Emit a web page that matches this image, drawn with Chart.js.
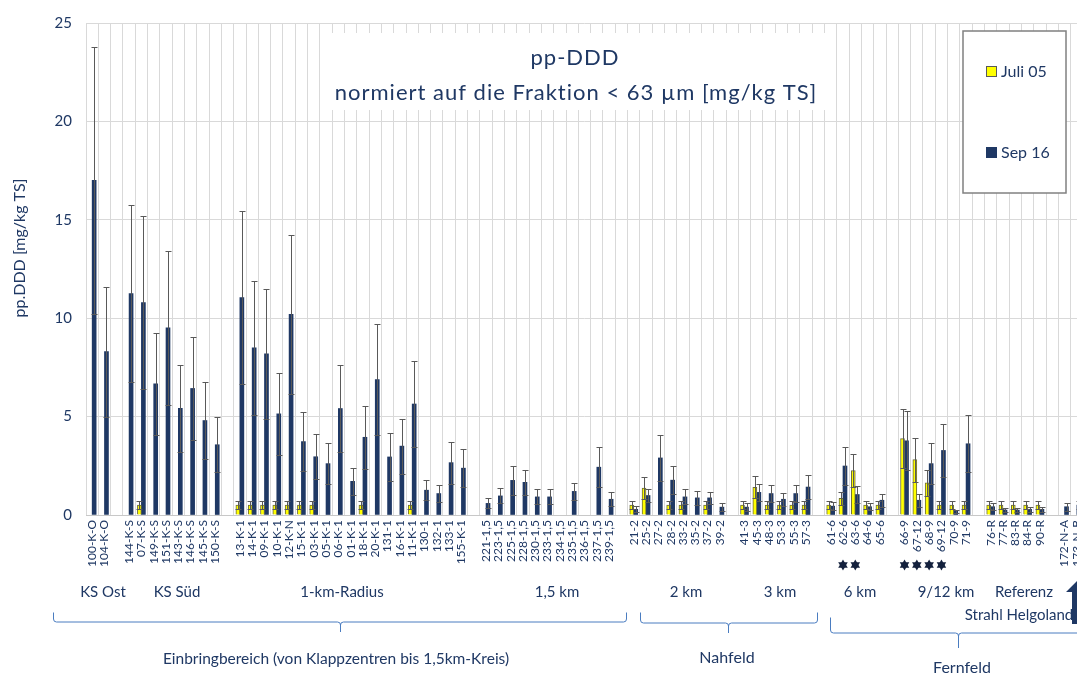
<!DOCTYPE html>
<html>
<head>
<meta charset="utf-8">
<script src="https://cdn.jsdelivr.net/npm/chart.js@4.4.0/dist/chart.umd.min.js"></script>
<style>
  html, body { margin: 0; padding: 0; overflow: hidden; background: #fff; }
  #wrap { width: 1083px; height: 674px; }
</style>
</head>
<body>
<div id="wrap"><canvas id="chart" width="1083" height="674"></canvas></div>
<script>
// stations ('' = empty slot between groups)
const categories = [
  '100-K-O', '104-K-O', '',
  '144-K-S', '07-K-S', '149-K-S', '151-K-S', '143-K-S', '146-K-S', '145-K-S', '150-K-S', '',
  '13-K-1', '14-K-1', '09-K-1', '10-K-1', '12-K-N', '15-K-1', '03-K-1', '05-K-1', '06-K-1', '01-K-1',
  '18-K-1', '20-K-1', '131-1', '16-K-1', '11-K-1', '130-1', '132-1', '133-1', '155-K-1', '',
  '221-1,5', '223-1,5', '225-1,5', '228-1,5', '230-1,5', '233-1,5', '234-1,5', '235-1,5', '236-1,5', '237-1,5', '239-1,5', '',
  '21-2', '25-2', '27-2', '28-2', '33-2', '35-2', '37-2', '39-2', '',
  '41-3', '45-3', '48-3', '53-3', '55-3', '57-3', '',
  '61-6', '62-6', '63-6', '64-6', '65-6', '',
  '66-9', '67-12', '68-9', '69-12', '70-9', '71-9', '',
  '76-R', '77-R', '83-R', '84-R', '90-R', '',
  '172-N-A', '173-N-B'
];

const juli05 = [
  null, null, null,
  null, 0.5, null, null, null, null, null, null, null,
  0.5, 0.5, 0.5, 0.5, 0.5, 0.5, 0.5, null, null, null,
  0.5, null, null, null, 0.5, null, null, null, null, null,
  null, null, null, null, null, null, null, null, null, null, null, null,
  0.5, 1.37, null, 0.5, 0.5, null, 0.5, null, null,
  0.5, 1.41, 0.5, 0.5, 0.5, 0.5, null,
  0.5, 0.85, 2.26, 0.5, 0.5, null,
  3.88, 2.81, 1.64, 0.5, 0.5, 0.5, null,
  0.5, 0.5, 0.5, 0.5, 0.5, null,
  null, null
];
const juli05Err = [
  null, null, null,
  null, 0.22, null, null, null, null, null, null, null,
  0.22, 0.22, 0.22, 0.22, 0.22, 0.22, 0.22, null, null, null,
  0.22, null, null, null, 0.22, null, null, null, null, null,
  null, null, null, null, null, null, null, null, null, null, null, null,
  0.22, 0.55, null, 0.22, 0.22, null, 0.22, null, null,
  0.22, 0.56, 0.22, 0.22, 0.22, 0.22, null,
  0.22, 0.32, 0.86, 0.22, 0.22, null,
  1.51, 1.12, 0.67, 0.22, 0.22, 0.22, null,
  0.22, 0.22, 0.22, 0.22, 0.22, null,
  null, null
];

const sep16 = [
  17.0, 8.3, null,
  11.25, 10.8, 6.66, 9.51, 5.42, 6.43, 4.8, 3.57, null,
  11.05, 8.5, 8.19, 5.14, 10.2, 3.73, 2.96, 2.61, 5.41, 1.71,
  3.95, 6.88, 2.95, 3.5, 5.64, 1.26, 1.09, 2.66, 2.38, null,
  0.59, 0.97, 1.76, 1.66, 0.92, 0.92, null, 1.2, null, 2.43, 0.8, null,
  0.29, 0.99, 2.9, 1.77, 0.92, 0.87, 0.87, 0.4, null,
  0.4, 1.15, 1.09, 0.8, 1.09, 1.42, null,
  0.45, 2.49, 1.04, 0.42, 0.75, null,
  3.77, 0.75, 2.61, 3.28, 0.19, 3.62, null,
  0.42, 0.25, 0.25, 0.29, 0.29, null,
  0.42, 0.5
];
const sep16Err = [
  6.8, 3.3, null,
  4.5, 4.4, 2.6, 3.9, 2.2, 2.6, 1.95, 1.4, null,
  4.4, 3.4, 3.3, 2.1, 4.05, 1.5, 1.15, 1.05, 2.2, 0.7,
  1.6, 2.8, 1.2, 1.4, 2.2, 0.5, 0.43, 1.06, 0.95, null,
  0.25, 0.38, 0.72, 0.65, 0.38, 0.38, null, 0.42, null, 1.0, 0.35, null,
  0.16, 0.35, 1.15, 0.71, 0.38, 0.37, 0.32, 0.19, null,
  0.19, 0.42, 0.43, 0.34, 0.43, 0.6, null,
  0.22, 0.99, 0.42, 0.18, 0.34, null,
  1.5, 0.34, 1.04, 1.34, 0.08, 1.44, null,
  0.18, 0.1, 0.1, 0.12, 0.12, null,
  0.2, 0.2
];

const groupLabels = ['KS Ost', 'KS Süd', '1-km-Radius', '1,5 km', '2 km', '3 km', '6 km', '9/12 km', 'Referenz'];
const starred = ['62-6', '63-6', '66-9', '67-12', '68-9', '69-12'];

const navy = '#1F3864';
const font = 'Lato, "Open Sans", sans-serif';
Chart.defaults.font.family = font;

function drawBrace(ctx, x1, x2, peak, top, mid, tip) {
  ctx.beginPath();
  ctx.moveTo(x1, top);
  ctx.lineTo(x1, mid - 3);
  ctx.quadraticCurveTo(x1, mid, x1 + 3, mid);
  ctx.lineTo(peak - 3, mid);
  ctx.quadraticCurveTo(peak, mid, peak, mid + 3);
  ctx.lineTo(peak, tip);
  ctx.moveTo(peak, mid + 3);
  ctx.quadraticCurveTo(peak, mid, peak + 3, mid);
  ctx.lineTo(x2 - 3, mid);
  ctx.quadraticCurveTo(x2, mid, x2, mid - 3);
  ctx.lineTo(x2, top);
  ctx.stroke();
}

function drawStar(ctx, x, y, r) {
  for (let k = 0; k < 2; k++) {
    ctx.beginPath();
    for (let j = 0; j < 3; j++) {
      const a = -Math.PI / 2 + k * Math.PI / 3 + j * 2 * Math.PI / 3;
      const px = x + r * Math.cos(a), py = y + r * Math.sin(a);
      if (j === 0) ctx.moveTo(px, py); else ctx.lineTo(px, py);
    }
    ctx.closePath();
    ctx.fill();
  }
}

const extras = {
  id: 'extras',
  beforeDatasetsDraw(chart) {
    const ctx = chart.ctx;
    ctx.save();
    ctx.fillStyle = '#fff';
    ctx.fillRect(322, 33, 512, 77);
    ctx.restore();
  },
  afterDatasetsDraw(chart) {
    const ctx = chart.ctx;
    const y = chart.scales.y;
    const errs = [juli05Err, sep16Err];
    ctx.save();
    ctx.strokeStyle = '#595959';
    ctx.lineWidth = 1;
    chart.data.datasets.forEach((ds, d) => {
      const meta = chart.getDatasetMeta(d);
      ds.data.forEach((v, i) => {
        const e = errs[d][i];
        if (v == null || e == null) return;
        const x = Math.round(meta.data[i].x) + 0.5;
        const yt = Math.round(y.getPixelForValue(v + e)) + 0.5;
        const yb = Math.round(y.getPixelForValue(Math.max(v - e, 0))) + 0.5;
        ctx.beginPath();
        ctx.moveTo(x, yt); ctx.lineTo(x, yb);
        ctx.moveTo(x - 3, yt); ctx.lineTo(x + 3, yt);
        ctx.moveTo(x - 3, yb); ctx.lineTo(x + 3, yb);
        ctx.stroke();
      });
    });
    ctx.restore();
  },
  afterDraw(chart) {
    const ctx = chart.ctx;
    const xs = chart.scales.x;
    ctx.save();

    // title
    ctx.fillStyle = navy;
    ctx.textAlign = 'center';
    ctx.textBaseline = 'middle';
    ctx.font = '22px ' + font;
    ctx.letterSpacing = '1px';
    ctx.fillText('pp-DDD', 575, 58);
    ctx.fillText('normiert auf die Fraktion < 63 µm [mg/kg TS]', 576, 93);
    ctx.letterSpacing = '0px';

    // y axis title
    ctx.save();
    ctx.translate(20, 248);
    ctx.rotate(-Math.PI / 2);
    ctx.font = '16px ' + font;
    ctx.fillText('pp.DDD [mg/kg TS]', 0, 0);
    ctx.restore();

    // legend
    ctx.fillStyle = '#fff';
    ctx.fillRect(963, 31, 103, 162);
    ctx.strokeStyle = '#808080';
    ctx.lineWidth = 1.5;
    ctx.strokeRect(963, 31, 103, 162);
    ctx.fillStyle = '#FFFF00';
    ctx.fillRect(986.5, 66.5, 10, 10);
    ctx.strokeStyle = '#595959';
    ctx.lineWidth = 1;
    ctx.strokeRect(986.5, 66.5, 10, 10);
    ctx.fillStyle = navy;
    ctx.fillRect(986, 147, 11, 11);
    ctx.textAlign = 'left';
    ctx.font = '16px ' + font;
    ctx.fillText('Juli 05', 1001, 72);
    ctx.fillText('Sep 16', 1001, 153);

    // group labels
    const groupX = [103, 177, 342, 557, 686, 780, 860, 946, 1024];
    ctx.textAlign = 'center';
    ctx.font = '15px ' + font;
    groupLabels.forEach((g, i) => ctx.fillText(g, groupX[i], 592));
    ctx.fillText('Strahl Helgoland', 1019, 615);

    // stars
    ctx.fillStyle = '#14213D';
    starred.forEach(s => {
      const x = xs.getPixelForValue(categories.indexOf(s));
      drawStar(ctx, x, 565, 5.5);
    });

    // braces
    ctx.strokeStyle = '#4A7CC0';
    ctx.lineWidth = 1;
    drawBrace(ctx, 53.5, 626.5, 340.5, 612.5, 622, 632);
    drawBrace(ctx, 640.5, 817.5, 728.5, 612.5, 623, 633);
    drawBrace(ctx, 830.5, 1110, 958.5, 617.5, 633, 648);

    ctx.fillStyle = navy;
    ctx.font = '15.5px ' + font;
    ctx.fillText('Einbringbereich (von Klappzentren bis 1,5km-Kreis)', 336, 659);
    ctx.font = '16px ' + font;
    ctx.fillText('Nahfeld', 727, 658);
    ctx.fillText('Fernfeld', 962, 668);

    // arrow at the right edge
    ctx.fillStyle = navy;
    ctx.beginPath();
    ctx.moveTo(1080, 578);
    ctx.lineTo(1092, 592);
    ctx.lineTo(1086, 592);
    ctx.lineTo(1086, 624);
    ctx.lineTo(1072, 624);
    ctx.lineTo(1072, 592);
    ctx.lineTo(1066, 592);
    ctx.closePath();
    ctx.fill();

    ctx.restore();
  }
};

new Chart(document.getElementById('chart'), {
  type: 'bar',
  data: {
    labels: categories,
    datasets: [
      {
        label: 'Juli 05',
        data: juli05,
        backgroundColor: '#FFFF00',
        borderColor: '#6B6B3A',
        borderWidth: 1,
        barThickness: 4,
      },
      {
        label: 'Sep 16',
        data: sep16,
        backgroundColor: navy,
        borderWidth: 0,
        barThickness: 4,
      },
    ],
  },
  options: {
    responsive: false,
    animation: false,
    layout: { padding: { top: 17, right: 0, bottom: 0, left: 0 } },
    plugins: {
      legend: { display: false },
      tooltip: { enabled: false },
    },
    scales: {
      x: {
        grid: { color: '#D9D9D9', lineWidth: 1, drawTicks: false, offset: true },
        border: { color: '#C8C8C8' },
        ticks: {
          autoSkip: false,
          minRotation: 90,
          maxRotation: 90,
          padding: 5,
          color: navy,
          font: { size: 12 },
        },
        afterFit: (scale) => {
          scale.height = 159;
          scale.paddingLeft = 0;
          scale.paddingRight = 0;
        },
      },
      y: {
        min: 0,
        max: 25,
        grid: { color: '#D9D9D9', lineWidth: 1, drawTicks: false },
        border: { display: false },
        ticks: {
          stepSize: 5,
          padding: 14,
          color: navy,
          font: { size: 15 },
        },
        afterFit: (scale) => {
          scale.width = 86;
        },
      },
    },
  },
  plugins: [extras],
});
</script>
</body>
</html>
